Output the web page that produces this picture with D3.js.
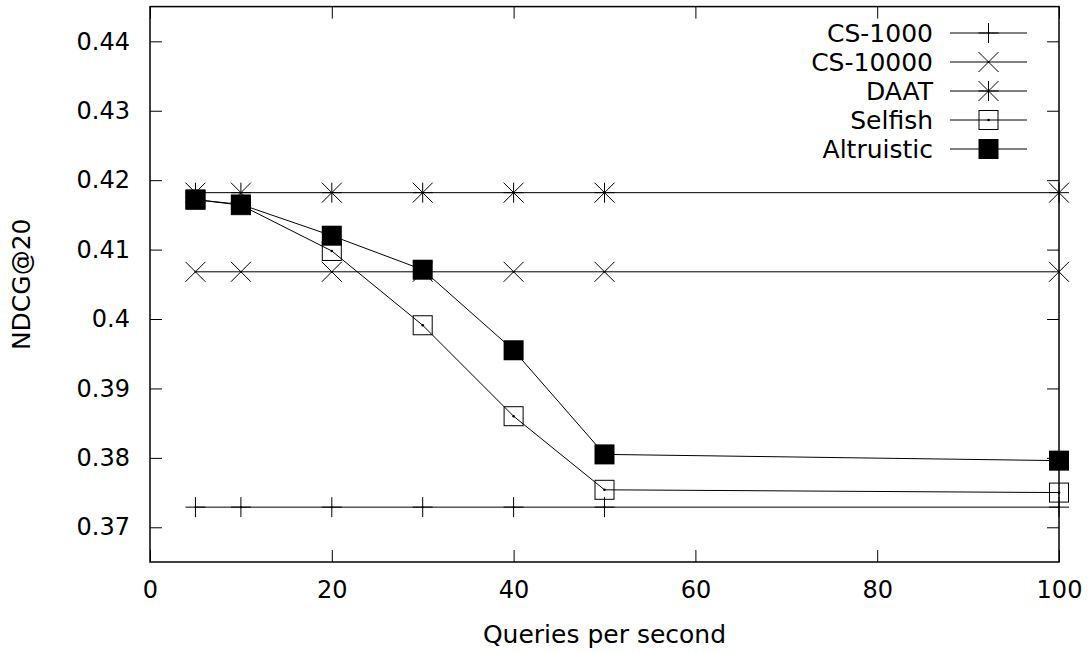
<!DOCTYPE html>
<html>
<head>
<meta charset="utf-8">
<script src="https://cdn.jsdelivr.net/npm/d3@7"></script>
<style>
  body { margin: 0; background: #fff; }
  svg { display: block; font-family: "DejaVu Sans", sans-serif; }
</style>
</head>
<body>
<div id="chart"></div>
<script>
// data
const qps = [5, 10, 20, 30, 40, 50, 100];
const cs1000 = [0.3729, 0.3729, 0.3729, 0.3729, 0.3729, 0.3729, 0.3729];
const cs10000 = [0.4068, 0.4068, 0.4068, 0.4068, 0.4068, 0.4068, 0.4068];
const daat = [0.4182, 0.4182, 0.4182, 0.4182, 0.4182, 0.4182, 0.4182];
const selfish = [0.4172, 0.4164, 0.4098, 0.3991, 0.3860, 0.3754, 0.3750];
const altruistic = [0.4172, 0.4165, 0.4120, 0.4071, 0.3955, 0.3805, 0.3796];
const seriesNames = ["CS-1000", "CS-10000", "DAAT", "Selfish", "Altruistic"];
const markerTypes = ["plus", "cross", "star", "openSquare", "filledSquare"];
const xTicks = [0, 20, 40, 60, 80, 100];
const yTicks = [0.37, 0.38, 0.39, 0.40, 0.41, 0.42, 0.43, 0.44];

const series = [cs1000, cs10000, daat, selfish, altruistic].map((vals, i) => ({
	name: seriesNames[i],
	marker: markerTypes[i],
	points: qps.map((q, j) => ({ x: q, y: vals[j] }))
}));

const outerWidth = 1091;
const outerHeight = 653;
const margin = { top: 6.6, right: 32, bottom: 91, left: 150 };
const width = outerWidth - margin.left - margin.right;
const height = outerHeight - margin.top - margin.bottom;

const svg = d3.select("#chart").append("svg")
	.attr("width", outerWidth)
	.attr("height", outerHeight);

const g = svg.append("g")
	.attr("transform", `translate(${margin.left}, ${margin.top})`);

const x = d3.scaleLinear().domain([0, 100]).range([0, width]);
const y = d3.scaleLinear().domain([0.365, 0.445]).range([height, 0]);

const tickLen = 12;
const fontSize = 24;

// ticks (mirrored, pointing inward)
const axisStyle = sel => {
	sel.attr("font-size", fontSize).attr("font-family", "DejaVu Sans, sans-serif");
	sel.select(".domain").remove();
	sel.selectAll(".tick line").attr("stroke", "#000").attr("stroke-width", 1);
	sel.selectAll(".tick text").attr("fill", "#000");
};

g.append("g")
	.attr("transform", `translate(0, ${height})`)
	.call(d3.axisBottom(x).tickValues(xTicks).tickSize(-tickLen).tickPadding(19).tickFormat(d3.format("d")))
	.call(axisStyle);

g.append("g")
	.call(d3.axisTop(x).tickValues(xTicks).tickSize(-tickLen).tickFormat(""))
	.call(axisStyle);

g.append("g")
	.call(d3.axisLeft(y).tickValues(yTicks).tickSize(-tickLen).tickPadding(20).tickFormat(d => d3.format("")(+d.toFixed(2))))
	.call(axisStyle);

g.append("g")
	.attr("transform", `translate(${width}, 0)`)
	.call(d3.axisRight(y).tickValues(yTicks).tickSize(-tickLen).tickFormat(""))
	.call(axisStyle);

// markers
const ms = 10; // half size
function drawMarker(sel, type, cx, cy) {
	const m = sel.append("g").attr("transform", `translate(${cx}, ${cy})`);
	const stroke = "#000";
	if (type === "plus" || type === "star") {
		m.append("line").attr("x1", -ms).attr("x2", ms).attr("y1", 0).attr("y2", 0).attr("stroke", stroke);
		m.append("line").attr("x1", 0).attr("x2", 0).attr("y1", -ms).attr("y2", ms).attr("stroke", stroke);
	}
	if (type === "cross" || type === "star") {
		m.append("line").attr("x1", -ms).attr("x2", ms).attr("y1", -ms).attr("y2", ms).attr("stroke", stroke);
		m.append("line").attr("x1", -ms).attr("x2", ms).attr("y1", ms).attr("y2", -ms).attr("stroke", stroke);
	}
	if (type === "openSquare") {
		m.append("rect").attr("x", -ms + 0.5).attr("y", -ms + 0.5).attr("width", 2 * ms - 1).attr("height", 2 * ms - 1)
			.attr("fill", "none").attr("stroke", stroke);
		m.append("circle").attr("r", 1.3).attr("fill", stroke);
	}
	if (type === "filledSquare") {
		m.append("rect").attr("x", -ms).attr("y", -ms).attr("width", 2 * ms).attr("height", 2 * ms).attr("fill", stroke);
	}
	if (type === "plus" || type === "cross") {
		m.append("circle").attr("r", 1).attr("fill", stroke);
	}
}

const line = d3.line().x(d => x(d.x)).y(d => y(d.y));

series.forEach(s => {
	g.append("path")
		.datum(s.points)
		.attr("d", line)
		.attr("fill", "none")
		.attr("stroke", "#000")
		.attr("stroke-width", 1);
	const mg = g.append("g");
	s.points.forEach(p => drawMarker(mg, s.marker, x(p.x), y(p.y)));
});

// frame
g.append("rect")
	.attr("width", width)
	.attr("height", height)
	.attr("fill", "none")
	.attr("stroke", "#000")
	.attr("stroke-width", 1.5);

// legend
const legend = svg.append("g").attr("transform", "translate(0, 33)");
series.forEach((s, i) => {
	const row = legend.append("g").attr("transform", `translate(0, ${i * 29})`);
	row.append("text")
		.attr("x", 933)
		.attr("y", 0)
		.attr("dy", "0.35em")
		.attr("text-anchor", "end")
		.attr("font-size", 25)
		.text(s.name);
	row.append("line")
		.attr("x1", 950).attr("x2", 1027)
		.attr("y1", 0).attr("y2", 0)
		.attr("stroke", "#000");
	drawMarker(row, s.marker, 988.5, 0);
});

// axis titles
svg.append("text")
	.attr("x", margin.left + width / 2)
	.attr("y", 643)
	.attr("text-anchor", "middle")
	.attr("font-size", 25)
	.text("Queries per second");

svg.append("text")
	.attr("transform", `translate(30, ${margin.top + height / 2}) rotate(-90)`)
	.attr("text-anchor", "middle")
	.attr("font-size", 25)
	.text("NDCG@20");
</script>
</body>
</html>
